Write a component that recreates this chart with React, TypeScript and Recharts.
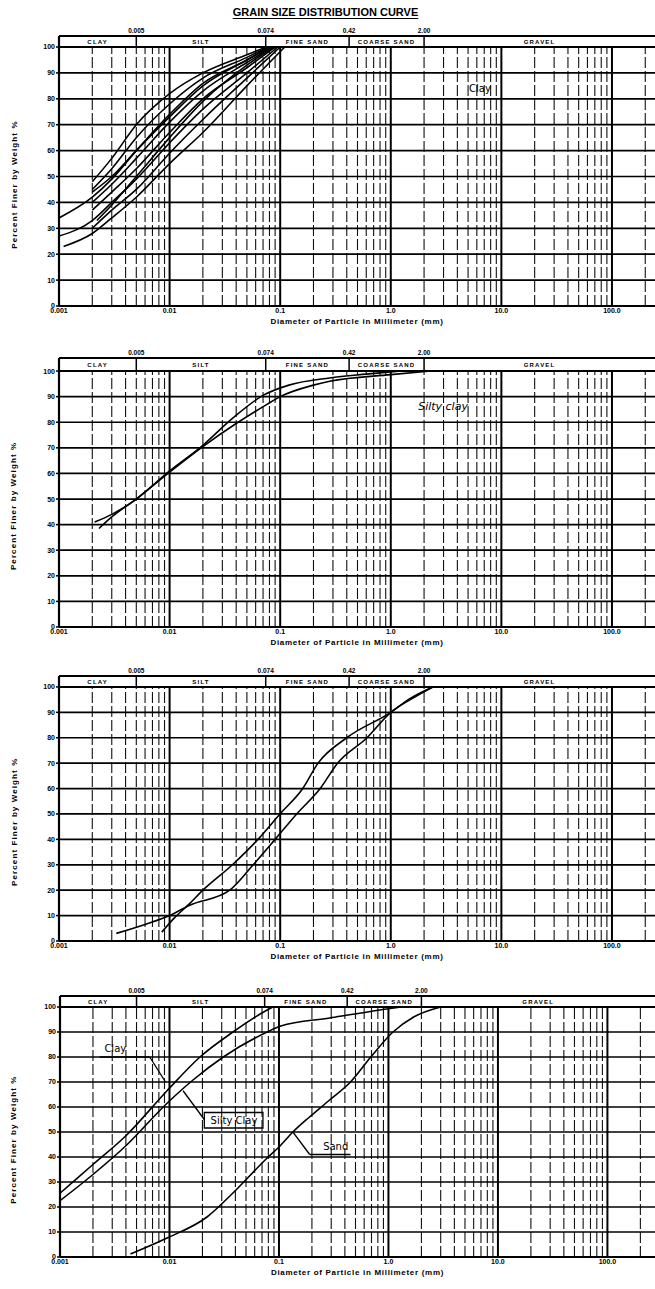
import React from 'react';
import {
  LineChart,
  Line,
  XAxis,
  YAxis,
  ReferenceLine,
  ReferenceArea,
  ReferenceDot,
  Label,
} from 'recharts';

// ---------- axes / grid values ----------
const X_TICKS = [0.001, 0.01, 0.1, 1, 10, 100];
const X_TICK_LABELS = ['0.001', '0.01', '0.1', '1.0', '10.0', '100.0'];
const Y_TICKS = [0, 10, 20, 30, 40, 50, 60, 70, 80, 90, 100];
const H_GRID = [10, 20, 30, 40, 50, 60, 70, 80, 90];
const DECADE_LINES = [0.01, 0.1, 1, 10, 100];
const MINOR_LINES = [
  0.002, 0.003, 0.004, 0.005, 0.006, 0.007, 0.008, 0.009,
  0.02, 0.03, 0.04, 0.05, 0.06, 0.07, 0.08, 0.09,
  0.2, 0.3, 0.4, 0.5, 0.6, 0.7, 0.8, 0.9,
  2, 3, 4, 5, 6, 7, 8, 9,
  20, 30, 40, 50, 60, 70, 80, 90,
  200,
];
const ZONE_BOUNDS = [0.005, 0.074, 0.42, 2.0];
const ZONE_BOUND_LABELS = ['0.005', '0.074', '0.42', '2.00'];
const ZONE_NAMES = ['CLAY', 'SILT', 'FINE SAND', 'COARSE SAND', 'GRAVEL'];
const ZONE_STARTS = [0.001, 0.005, 0.074, 0.42, 2.0];

// ---------- panel 1 : clay samples ----------
const clay1 = [
  { d: 0.002, p: 48 }, { d: 0.003, p: 57 }, { d: 0.005, p: 70 }, { d: 0.01, p: 82 },
  { d: 0.02, p: 90 }, { d: 0.05, p: 97 }, { d: 0.075, p: 100 },
];
const clay2 = [
  { d: 0.002, p: 45 }, { d: 0.003, p: 53 }, { d: 0.005, p: 65 }, { d: 0.01, p: 78 },
  { d: 0.02, p: 88 }, { d: 0.05, p: 96 }, { d: 0.078, p: 100 },
];
const clay3 = [
  { d: 0.001, p: 34 }, { d: 0.002, p: 42 }, { d: 0.003, p: 49 }, { d: 0.005, p: 60 },
  { d: 0.01, p: 74 }, { d: 0.02, p: 86 }, { d: 0.05, p: 95 }, { d: 0.08, p: 100 },
];
const clay4 = [
  { d: 0.002, p: 40 }, { d: 0.003, p: 47 }, { d: 0.005, p: 57 }, { d: 0.01, p: 71 },
  { d: 0.02, p: 83 }, { d: 0.05, p: 94 }, { d: 0.085, p: 100 },
];
const clay5 = [
  { d: 0.002, p: 37 }, { d: 0.003, p: 44 }, { d: 0.005, p: 53 }, { d: 0.01, p: 67 },
  { d: 0.02, p: 80 }, { d: 0.05, p: 92 }, { d: 0.09, p: 100 },
];
const clay6 = [
  { d: 0.001, p: 27 }, { d: 0.002, p: 33 }, { d: 0.003, p: 40 }, { d: 0.005, p: 49 },
  { d: 0.01, p: 63 }, { d: 0.02, p: 76 }, { d: 0.05, p: 90 }, { d: 0.095, p: 100 },
];
const clay7 = [
  { d: 0.002, p: 30 }, { d: 0.003, p: 37 }, { d: 0.005, p: 45 }, { d: 0.01, p: 59 },
  { d: 0.02, p: 72 }, { d: 0.05, p: 88 }, { d: 0.1, p: 100 },
];
const clay8 = [
  { d: 0.0011, p: 23 }, { d: 0.002, p: 28 }, { d: 0.003, p: 34 }, { d: 0.005, p: 42 },
  { d: 0.01, p: 55 }, { d: 0.02, p: 67 }, { d: 0.05, p: 85 }, { d: 0.11, p: 100 },
];
const clay9 = [
  { d: 0.002, p: 44 }, { d: 0.003, p: 50 }, { d: 0.005, p: 60 }, { d: 0.01, p: 73 },
  { d: 0.02, p: 85 }, { d: 0.05, p: 95 }, { d: 0.082, p: 100 },
];
const clay10 = [
  { d: 0.0022, p: 33 }, { d: 0.003, p: 39 }, { d: 0.005, p: 50 }, { d: 0.01, p: 65 },
  { d: 0.02, p: 79 }, { d: 0.05, p: 93 }, { d: 0.088, p: 100 },
];

// ---------- panel 2 : silty clay ----------
const siltyA = [
  { d: 0.0021, p: 41 }, { d: 0.003, p: 44 }, { d: 0.005, p: 50 }, { d: 0.01, p: 61 },
  { d: 0.02, p: 71 }, { d: 0.037, p: 81.5 }, { d: 0.07, p: 90.5 }, { d: 0.12, p: 94.5 },
  { d: 0.28, p: 97.3 }, { d: 0.6, p: 98.8 }, { d: 1.2, p: 100 },
];
const siltyB = [
  { d: 0.0023, p: 38.5 }, { d: 0.003, p: 43 }, { d: 0.005, p: 50 }, { d: 0.01, p: 60.5 },
  { d: 0.02, p: 70.5 }, { d: 0.04, p: 79.5 }, { d: 0.076, p: 87 }, { d: 0.1, p: 90 },
  { d: 0.2, p: 94.5 }, { d: 0.28, p: 96 }, { d: 1.0, p: 98.6 }, { d: 2.3, p: 100 },
];

// ---------- panel 3 : sand ----------
const sandA = [
  { d: 0.0085, p: 3.5 }, { d: 0.011, p: 9 }, { d: 0.015, p: 14.5 }, { d: 0.02, p: 20 },
  { d: 0.037, p: 30 }, { d: 0.063, p: 40 }, { d: 0.0995, p: 50 }, { d: 0.16, p: 60 },
  { d: 0.22, p: 70 }, { d: 0.4, p: 80 }, { d: 1.0, p: 90 }, { d: 1.5, p: 95.5 }, { d: 2.4, p: 100 },
];
const sandB = [
  { d: 0.0033, p: 3 }, { d: 0.006, p: 6.5 }, { d: 0.01, p: 10 }, { d: 0.015, p: 14 },
  { d: 0.035, p: 20 }, { d: 0.057, p: 30 }, { d: 0.09, p: 40 }, { d: 0.141, p: 50 },
  { d: 0.23, p: 60 }, { d: 0.33, p: 70 }, { d: 0.61, p: 80 }, { d: 1.0, p: 90 },
  { d: 1.5, p: 95 }, { d: 2.4, p: 100 },
];

// ---------- panel 4 : comparison ----------
const cmpClay = [
  { d: 0.001, p: 25.5 }, { d: 0.002, p: 37 }, { d: 0.004, p: 48.5 }, { d: 0.0095, p: 66.5 },
  { d: 0.019, p: 80 }, { d: 0.038, p: 90 }, { d: 0.078, p: 98.8 }, { d: 0.088, p: 100 },
];
const cmpSiltyClay = [
  { d: 0.001, p: 22.5 }, { d: 0.002, p: 33 }, { d: 0.004, p: 44.5 }, { d: 0.0095, p: 61.5 },
  { d: 0.0164, p: 70.8 }, { d: 0.031, p: 80 }, { d: 0.078, p: 90 }, { d: 0.104, p: 92.4 },
  { d: 0.29, p: 95.6 }, { d: 1.0, p: 99.3 }, { d: 1.3, p: 100 },
];
const cmpSand = [
  { d: 0.0044, p: 1.2 }, { d: 0.0095, p: 7.6 }, { d: 0.022, p: 16 }, { d: 0.038, p: 25.6 },
  { d: 0.078, p: 39.6 }, { d: 0.1, p: 44 }, { d: 0.134, p: 50 }, { d: 0.19, p: 56 },
  { d: 0.29, p: 62.8 }, { d: 0.45, p: 70 }, { d: 0.69, p: 80 }, { d: 1.1, p: 90 },
  { d: 1.7, p: 96 }, { d: 3.0, p: 100 },
];

// ---------- annotations ----------
const NOTES_1 = [{ x: 6.4, y: 84, text: 'Clay' }];
const NOTES_2 = [{ x: 2.97, y: 86.5, text: 'Silty clay' }];
const NOTES_3: { x: number; y: number; text: string }[] = [];
const NOTES_4 = [
  { x: 0.0032, y: 83.6, text: 'Clay' },
  { x: 0.0388, y: 54.7, text: 'Silty Clay' },
  { x: 0.33, y: 44.4, text: 'Sand' },
];
const LEADERS_4 = [
  [{ x: 0.0023, y: 80 }, { x: 0.0066, y: 80 }],
  [{ x: 0.0066, y: 80 }, { x: 0.0092, y: 70 }],
  [{ x: 0.0208, y: 55 }, { x: 0.0133, y: 66.5 }],
  [{ x: 0.191, y: 41 }, { x: 0.134, y: 50 }],
  [{ x: 0.191, y: 41 }, { x: 0.45, y: 41 }],
];
const BOX_4 = [{ x1: 0.0208, x2: 0.0714, y1: 51.6, y2: 57.8 }];

// ---------- layout ----------
const W = 655;
const MT = 16;
const XAXIS_H = 28;

const fmtX = (v: number) => {
  const i = X_TICKS.findIndex((t) => Math.abs(t - v) / t < 1e-6);
  return i >= 0 ? X_TICK_LABELS[i] : String(v);
};

const XTitle = (props: any) => {
  const vb = props.viewBox || { x: 59, y: 0, width: 596, height: 28 };
  return (
    <text
      x={vb.x + vb.width / 2}
      y={vb.y + 18}
      textAnchor="middle"
      fontSize={8}
      fontWeight={700}
      letterSpacing={0.7}
      fill="#000"
    >
      Diameter of Particle in Millimeter (mm)
    </text>
  );
};

const YTitle = (props: any) => {
  const vb = props.viewBox || { x: 0, y: 0, width: 59, height: 260 };
  const cx = vb.x + 14;
  const cy = vb.y + vb.height * 0.55;
  return (
    <text
      x={cx}
      y={cy}
      transform={`rotate(-90, ${cx}, ${cy})`}
      textAnchor="middle"
      dominantBaseline="central"
      fontSize={8}
      fontWeight={700}
      letterSpacing={1.1}
      fill="#000"
    >
      Percent Finer by Weight %
    </text>
  );
};

type Pt = { d: number; p: number };
type PanelCfg = {
  top: number;
  zero: number;
  axisW: number;
  xMax: number;
  yTop: number;
  series: Pt[][];
  notes: { x: number; y: number; text: string }[];
  noteStyle: any;
  leaders: { x: number; y: number }[][];
  boxes: { x1: number; x2: number; y1: number; y2: number }[];
};

function Panel({ cfg }: { cfg: PanelCfg }) {
  const plotH = cfg.zero - cfg.top;
  const height = MT + plotH + XAXIS_H;
  const zoneEnds = [...ZONE_STARTS.slice(1), cfg.xMax];
  return (
    <div style={{ position: 'absolute', left: 0, top: cfg.top - MT }}>
      <LineChart width={W} height={height} margin={{ top: MT, right: 0, left: 0, bottom: 0 }}>
        <XAxis
          dataKey="d"
          type="number"
          scale="log"
          domain={[0.001, cfg.xMax]}
          allowDataOverflow
          ticks={X_TICKS}
          interval={0}
          tickFormatter={fmtX}
          axisLine={{ stroke: '#000', strokeWidth: 2 }}
          tickLine={false}
          tickSize={1}
          tickMargin={1}
          height={XAXIS_H}
          tick={{ fontSize: 7, fontWeight: 700, fill: '#000', fontFamily: 'Liberation Sans, Arial, sans-serif' }}
          label={<Label content={XTitle} />}
        />
        <YAxis
          type="number"
          domain={[0, cfg.yTop]}
          allowDataOverflow
          ticks={Y_TICKS}
          interval={0}
          width={cfg.axisW}
          axisLine={{ stroke: '#000', strokeWidth: 2.2 }}
          tickLine={{ stroke: '#000', strokeWidth: 1.5 }}
          tickSize={3}
          tickMargin={1}
          tick={{ fontSize: 7, fontWeight: 700, fill: '#000', fontFamily: 'Liberation Sans, Arial, sans-serif' }}
          label={<Label content={YTitle} />}
        />

        {/* minor vertical grid */}
        {MINOR_LINES.filter((v) => v < cfg.xMax).map((v) => (
          <ReferenceLine
            key={`mv${v}`}
            segment={[{ x: v, y: 0 }, { x: v, y: 100 }]}
            stroke="#111"
            strokeWidth={1.1}
            strokeDasharray="11 3"
          />
        ))}
        {/* decade vertical grid */}
        {DECADE_LINES.map((v) => (
          <ReferenceLine
            key={`dv${v}`}
            segment={[{ x: v, y: 0 }, { x: v, y: 100 }]}
            stroke="#000"
            strokeWidth={2}
          />
        ))}
        {/* horizontal grid */}
        {H_GRID.map((v) => (
          <ReferenceLine key={`h${v}`} y={v} stroke="#000" strokeWidth={1.7} />
        ))}
        <ReferenceLine y={100} stroke="#000" strokeWidth={2} />
        <ReferenceLine y={cfg.yTop} stroke="#000" strokeWidth={2} />

        {/* header zone strip */}
        {ZONE_BOUNDS.map((v) => (
          <ReferenceLine
            key={`zb${v}`}
            segment={[{ x: v, y: 100 }, { x: v, y: cfg.yTop }]}
            stroke="#000"
            strokeWidth={1.5}
          />
        ))}
        {ZONE_NAMES.map((n, i) => (
          <ReferenceArea
            key={`zn${n}`}
            x1={ZONE_STARTS[i]}
            x2={zoneEnds[i]}
            y1={100}
            y2={cfg.yTop}
            fill="none"
            fillOpacity={0}
            strokeOpacity={0}
            label={{
              value: n,
              position: 'center',
              fontSize: 6,
              fontWeight: 700,
              fill: '#000',
              letterSpacing: 1.2,
              fontFamily: 'Liberation Sans, Arial, sans-serif',
            }}
          />
        ))}
        {ZONE_BOUNDS.map((v, i) => (
          <ReferenceDot
            key={`zl${v}`}
            x={v}
            y={cfg.yTop}
            r={1}
            fill="none"
            stroke="none"
            label={{
              value: ZONE_BOUND_LABELS[i],
              position: 'top',
              offset: 2,
              fontSize: 6.5,
              fontWeight: 700,
              fill: '#000',
              fontFamily: 'Liberation Sans, Arial, sans-serif',
            }}
          />
        ))}

        {/* annotations */}
        {cfg.leaders.map((seg, i) => (
          <ReferenceLine key={`ld${i}`} segment={seg} stroke="#000" strokeWidth={1.3} />
        ))}
        {cfg.boxes.map((b, i) => (
          <ReferenceArea
            key={`bx${i}`}
            x1={b.x1}
            x2={b.x2}
            y1={b.y1}
            y2={b.y2}
            fill="#fff"
            fillOpacity={1}
            stroke="#000"
            strokeWidth={1.3}
          />
        ))}
        {cfg.notes.map((n, i) => (
          <ReferenceDot
            key={`nt${i}`}
            x={n.x}
            y={n.y}
            r={1}
            fill="none"
            stroke="none"
            label={{ value: n.text, position: 'center', fill: '#000', ...cfg.noteStyle }}
          />
        ))}

        {/* curves */}
        {cfg.series.map((s, i) => (
          <Line
            key={`s${i}`}
            data={s}
            dataKey="p"
            type="monotone"
            stroke="#000"
            strokeWidth={1.6}
            dot={false}
            activeDot={false}
            isAnimationActive={false}
          />
        ))}
      </LineChart>
    </div>
  );
}

const PANELS: PanelCfg[] = [
  {
    top: 36, zero: 306, axisW: 59, xMax: 245, yTop: 104.25,
    series: [clay1, clay2, clay3, clay4, clay5, clay6, clay7, clay8, clay9, clay10],
    notes: NOTES_1,
    noteStyle: { fontSize: 10, fontFamily: 'DejaVu Sans, sans-serif' },
    leaders: [], boxes: [],
  },
  {
    top: 358, zero: 627, axisW: 59, xMax: 245, yTop: 105.1,
    series: [siltyA, siltyB],
    notes: NOTES_2,
    noteStyle: { fontSize: 11, fontStyle: 'italic', fontFamily: 'DejaVu Sans, sans-serif' },
    leaders: [], boxes: [],
  },
  {
    top: 676, zero: 941, axisW: 59, xMax: 245, yTop: 104.3,
    series: [sandA, sandB],
    notes: NOTES_3,
    noteStyle: { fontSize: 10 },
    leaders: [], boxes: [],
  },
  {
    top: 996, zero: 1257, axisW: 60, xMax: 272, yTop: 104.4,
    series: [cmpClay, cmpSiltyClay, cmpSand],
    notes: NOTES_4,
    noteStyle: { fontSize: 10, fontFamily: 'DejaVu Sans, sans-serif' },
    leaders: LEADERS_4, boxes: BOX_4,
  },
];

export default function App() {
  return (
    <div
      style={{
        position: 'absolute',
        left: 0,
        top: 0,
        width: W,
        height: 1289,
        background: '#fff',
        fontFamily: 'Liberation Sans, Arial, sans-serif',
        overflow: 'hidden',
      }}
    >
      <div
        style={{
          position: 'absolute',
          left: 218,
          top: 6,
          width: 215,
          textAlign: 'center',
          fontSize: 11,
          fontWeight: 700,
          textDecoration: 'underline',
          textUnderlineOffset: 2,
          whiteSpace: 'nowrap',
          color: '#000',
        }}
      >
        GRAIN SIZE DISTRIBUTION CURVE
      </div>
      {PANELS.map((cfg, i) => (
        <Panel key={i} cfg={cfg} />
      ))}
    </div>
  );
}
